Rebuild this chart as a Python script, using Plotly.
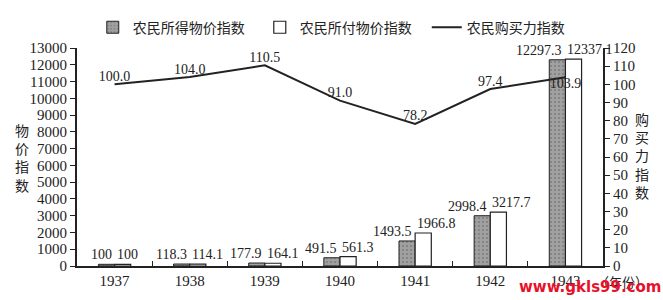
import plotly.graph_objects as go

years = ["1937", "1938", "1939", "1940", "1941", "1942", "1943"]
received = [100, 118.3, 177.9, 491.5, 1493.5, 2998.4, 12297.3]
paid = [100, 114.1, 164.1, 561.3, 1966.8, 3217.7, 12337.1]
power = [100.0, 104.0, 110.5, 91.0, 78.2, 97.4, 103.9]
power_pos = ["top center"] * 6 + ["bottom center"]

SERIF = "Liberation Serif, Times New Roman, serif"
CJK = "Noto Sans CJK SC, sans-serif"

fig = go.Figure()
fig.add_trace(go.Bar(
    x=years, y=received, name="农民所得物价指数",
    marker=dict(color="#9c9c9c", line=dict(color="#222", width=1),
                pattern=dict(shape=".", fgcolor="#555", bgcolor="#a0a0a0", size=4, solidity=0.2)),
    yaxis="y",
))
fig.add_trace(go.Bar(
    x=years, y=paid, name="农民所付物价指数",
    marker=dict(color="white", line=dict(color="#222", width=1.2)),
    yaxis="y",
))
fig.add_trace(go.Scatter(
    x=years, y=power, name="农民购买力指数", mode="lines+text",
    line=dict(color="#222", width=2),
    text=["%.1f" % v for v in power], textposition=power_pos,
    textfont=dict(family=SERIF, size=14, color="#222"),
    yaxis="y2", cliponaxis=False,
))

ann = []
for i, v in enumerate(received):
    ann.append(dict(x=i, y=v, xref="x", yref="y", text="%g" % v, showarrow=False,
                    xanchor="right", yanchor="bottom", xshift=-1, yshift=0,
                    font=dict(family=SERIF, size=14, color="#222")))
for i, v in enumerate(paid):
    ann.append(dict(x=i, y=v, xref="x", yref="y", text="%g" % v, showarrow=False,
                    xanchor="left", yanchor="bottom", xshift=0, yshift=0,
                    font=dict(family=SERIF, size=14, color="#222")))

W, H = 663, 300
l, r, t, b = 77, 60, 48, 34
pw, ph = W - l - r, H - t - b
def px(x):
    return (x - l) / pw
def py(y):
    return (H - b - y) / ph

extra = [
    dict(x=px(22), y=py(157), text="物<br>价<br>指<br>数", size=14, color="#222", family=CJK),
    dict(x=px(642), y=py(155), text="购<br>买<br>力<br>指<br>数", size=14, color="#222", family=CJK),
    dict(x=px(622), y=py(281), text="（年份）", size=13, color="#222", family=CJK),
    dict(x=px(590), y=py(287), text="<b>www.gkls99.com</b>", size=15, color="#e8102a",
         family="DejaVu Sans, sans-serif"),
]
for e in extra:
    ann.append(dict(x=e["x"], y=e["y"], xref="paper", yref="paper", text=e["text"],
                    showarrow=False, xanchor="center", yanchor="middle",
                    font=dict(family=e["family"], size=e["size"], color=e["color"])))

fig.update_layout(
    width=W, height=H,
    margin=dict(l=l, r=r, t=t, b=b),
    paper_bgcolor="white", plot_bgcolor="white",
    barmode="group", bargap=0.57, bargroupgap=0,
    showlegend=True,
    annotations=ann,
    legend=dict(orientation="h", x=0.03, y=1.02, xanchor="left", yanchor="bottom",
                font=dict(family=CJK, size=14, color="#222"), itemwidth=30,
                entrywidth=122, entrywidthmode="pixels",
                bgcolor="rgba(0,0,0,0)"),
    xaxis=dict(type="category", range=[-0.5, 6.5], showline=True, linecolor="#222", linewidth=2,
               ticks="inside", tickson="boundaries", ticklen=5, tickcolor="#222",
               tickfont=dict(family=SERIF, size=15, color="#222"), showgrid=False),
    yaxis=dict(range=[0, 13000], dtick=1000, tickformat="d", showline=True, linecolor="#222",
               linewidth=2, ticks="outside", ticklen=5, tickcolor="#222", showgrid=False,
               zeroline=False, tickfont=dict(family=SERIF, size=15, color="#222")),
    yaxis2=dict(range=[0, 120], dtick=10, overlaying="y", side="right", showline=True,
                linecolor="#222", linewidth=2, ticks="outside", ticklen=5, tickcolor="#222",
                showgrid=False, zeroline=False,
                tickfont=dict(family=SERIF, size=15, color="#222")),
)

fig.write_html("out.html")
